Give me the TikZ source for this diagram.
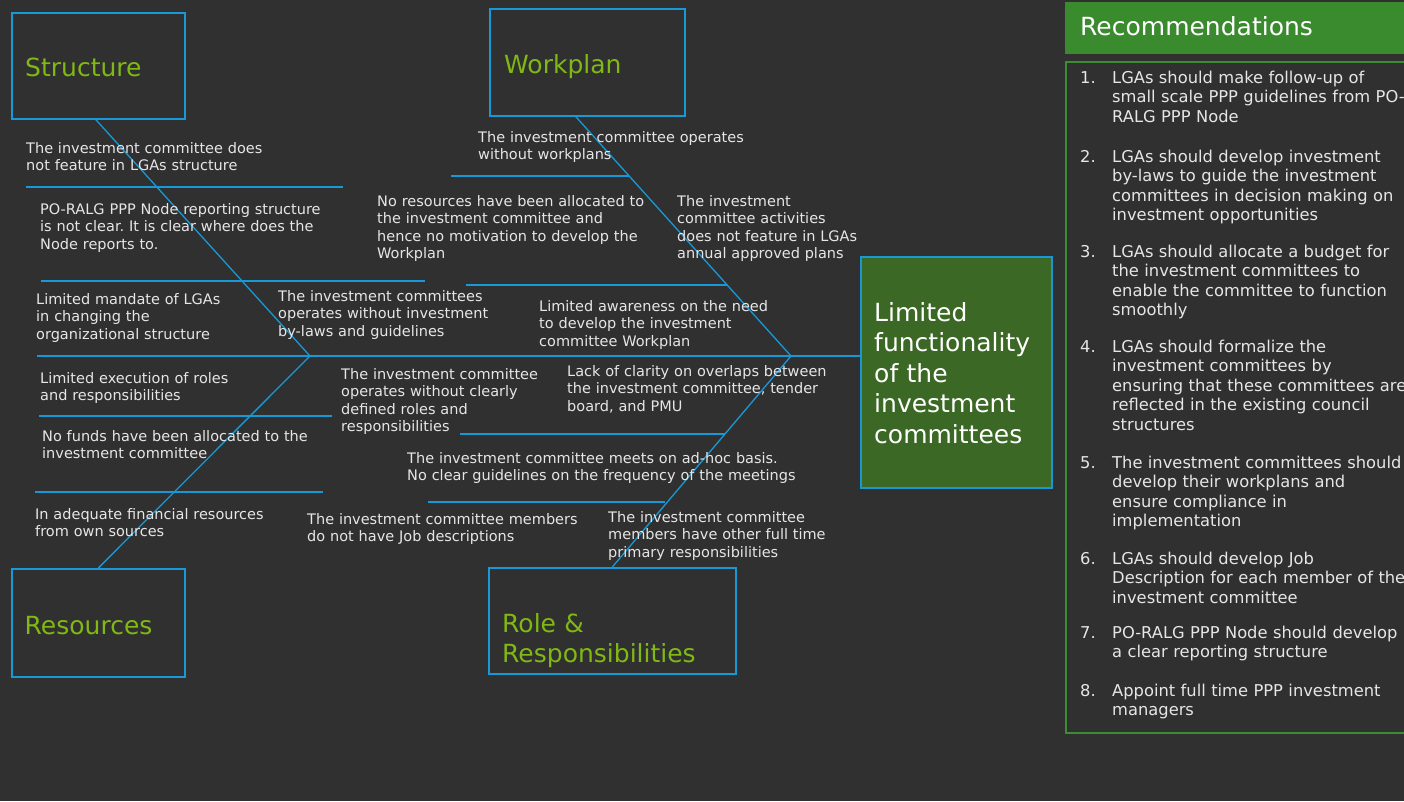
\documentclass[tikz,border=0pt]{standalone}
\usepackage{fontspec}
\setmainfont{DejaVu Sans}
\definecolor{bg}{HTML}{303030}
\definecolor{bl}{HTML}{1898D6}
\definecolor{txt}{HTML}{E6E6E6}
\definecolor{ttl}{HTML}{80B814}
\definecolor{cfill}{HTML}{3B6824}
\definecolor{hfill}{HTML}{3A8A2E}
\definecolor{lbox}{HTML}{3C8C32}
\frenchspacing
\begin{document}
\begin{tikzpicture}[x=1pt,y=-1pt,
  catbox/.style={draw=bl,line width=1.7pt,anchor=north west,inner sep=0pt},
  ttltext/.style={text=ttl,font=\fontsize{25}{30.5}\selectfont,anchor=base west,inner sep=0pt,align=left,text width=260pt},
  lbl/.style={text=txt,font=\fontsize{14.5}{17.6}\selectfont,anchor=base west,inner sep=0pt,align=left,text width=450pt},
  bone/.style={draw=bl,line width=1.3pt},
  recnum/.style={text=txt,font=\fontsize{16.3}{19.6}\selectfont,anchor=base west,inner sep=0pt},
  rec/.style={text=txt,font=\fontsize{16.3}{19.6}\selectfont,anchor=base west,inner sep=0pt,align=left,text width=330pt},
]
\clip (0,0) rectangle (1404,801);
\fill[bg] (0,0) rectangle (1404,801);

% category boxes
\node[catbox,minimum width=173pt,minimum height=106pt] (structure) at (11,12) {};
\node[catbox,minimum width=195pt,minimum height=107pt] (workplan) at (489,8) {};
\node[catbox,minimum width=173pt,minimum height=108pt] (resources) at (11,568) {};
\node[catbox,minimum width=247pt,minimum height=106pt] (role) at (488,567) {};
\node[catbox,fill=cfill,minimum width=191pt,minimum height=231pt] (effect) at (860,256) {};

\node[ttltext] (tStructure) at (25,76) {Structure};
\node[ttltext] (tWorkplan) at (504,73) {Workplan};
\node[ttltext] (tResources) at (24.5,634) {Resources};
\node[ttltext] (tRole) at (502,632) {Role \&\\Responsibilities};
\node[text=white,font=\fontsize{25}{30.6}\selectfont,anchor=base west,inner sep=0pt,align=left,text width=180pt] (tEffect) at (874,321) {Limited\\functionality\\of the\\investment\\committees};

% spine and bones
\coordinate (spineL) at (37,356);
\coordinate (v1) at (310,356);
\coordinate (v2) at (791,356);
\draw[bone] (spineL) -- (spineL -| effect.west);
\draw[bone] ([xshift=-2.5pt]structure.south) -- (v1) -- (resources.north);
\draw[bone] ([xshift=-11.5pt]workplan.south) -- (v2) -- (role.north);

% ribs
\draw[bone] (26,187) -- (343,187);
\draw[bone] (41,281) -- (425,281);
\draw[bone] (466,285) -- (727,285);
\draw[bone] (451,176) -- (629,176);
\draw[bone] (39,416) -- (332,416);
\draw[bone] (35,492) -- (323,492);
\draw[bone] (460,434) -- (725,434);
\draw[bone] (428,502) -- (665,502);

% labels
\node[lbl] (l1) at (26,153) {The investment committee does\\not feature in LGAs structure};
\node[lbl] (l2) at (40,214) {PO-RALG PPP Node reporting structure\\is not clear. It is clear where does the\\Node reports to.};
\node[lbl] (l3) at (36,304) {Limited mandate of LGAs\\in changing the\\organizational structure};
\node[lbl] (l4) at (278,301) {The investment committees\\operates without investment\\by-laws and guidelines};
\node[lbl] (l5) at (40,383) {Limited execution of roles\\and responsibilities};
\node[lbl] (l6) at (42,441) {No funds have been allocated to the\\investment committee};
\node[lbl] (l7) at (35,519) {In adequate financial resources\\from own sources};
\node[lbl] (l8) at (478,142) {The investment committee operates\\without workplans};
\node[lbl] (l9) at (377,206) {No resources have been allocated to\\the investment committee and\\hence no motivation to develop the\\Workplan};
\node[lbl] (l10) at (677,206) {The investment\\committee activities\\does not feature in LGAs\\annual approved plans};
\node[lbl] (l11) at (539,311) {Limited awareness on the need\\to develop the investment\\committee Workplan};
\node[lbl] (l12) at (341,379) {The investment committee\\operates without clearly\\defined roles and\\responsibilities};
\node[lbl] (l13) at (567,376) {Lack of clarity on overlaps between\\the investment committee, tender\\board, and PMU};
\node[lbl] (l14) at (407,463) {The investment committee meets on ad-hoc basis.\\No clear guidelines on the frequency of the meetings};
\node[lbl] (l15) at (307,524) {The investment committee members\\do not have Job descriptions};
\node[lbl] (l16) at (608,522) {The investment committee\\members have other full time\\primary responsibilities};

% recommendations
\node[draw=lbox,line width=1.6pt,anchor=north west,minimum width=360pt,minimum height=671pt,inner sep=0pt] (reclist) at (1065,61) {};
\node[fill=hfill,anchor=north west,minimum width=360pt,minimum height=52pt,inner sep=0pt] (rechead) at (1065,2) {};
\node[text=white,font=\fontsize{25}{30}\selectfont,anchor=base west,inner sep=0pt] (rectitle) at (1080,35) {Recommendations};

\node[recnum] (n1) at (1080,83) {1.};
\node[rec] (r1) at (1112,83) {LGAs should make follow-up of\\small scale PPP guidelines from PO-\\RALG PPP Node};
\node[recnum] (n2) at (1080,162) {2.};
\node[rec] (r2) at (1112,162) {LGAs should develop investment\\by-laws to guide the investment\\committees in decision making on\\investment opportunities};
\node[recnum] (n3) at (1080,257) {3.};
\node[rec] (r3) at (1112,257) {LGAs should allocate a budget for\\the investment committees to\\enable the committee to function\\smoothly};
\node[recnum] (n4) at (1080,352) {4.};
\node[rec] (r4) at (1112,352) {LGAs should formalize the\\investment committees by\\ensuring that these committees are\\reflected in the existing council\\structures};
\node[recnum] (n5) at (1080,468) {5.};
\node[rec] (r5) at (1112,468) {The investment committees should\\develop their workplans and\\ensure compliance in\\implementation};
\node[recnum] (n6) at (1080,564) {6.};
\node[rec] (r6) at (1112,564) {LGAs should develop Job\\Description for each member of the\\investment committee};
\node[recnum] (n7) at (1080,638) {7.};
\node[rec] (r7) at (1112,638) {PO-RALG PPP Node should develop\\a clear reporting structure};
\node[recnum] (n8) at (1080,696) {8.};
\node[rec] (r8) at (1112,696) {Appoint full time PPP investment\\managers};
\end{tikzpicture}
\end{document}
